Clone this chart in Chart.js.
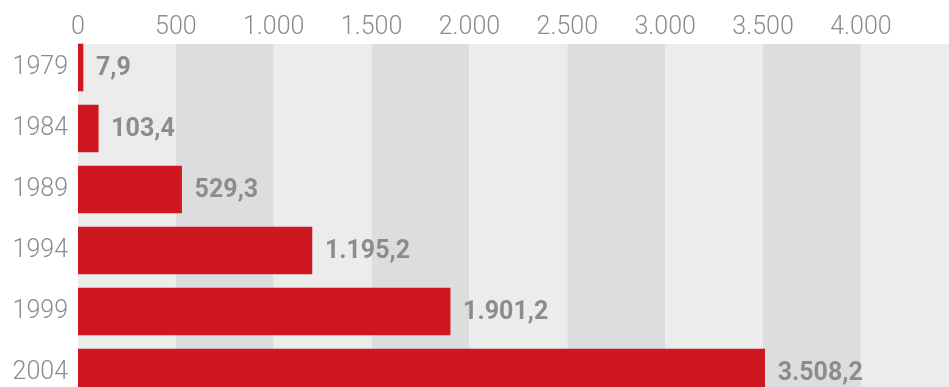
<!DOCTYPE html>
<html lang="de">
<head>
<meta charset="utf-8">
<title>1979–2004</title>
<script src="https://cdn.jsdelivr.net/npm/chart.js@4/dist/chart.umd.min.js"></script>
<style>
  html, body { margin: 0; padding: 0; background: #fff; overflow: hidden; }
  #wrap { width: 949px; height: 403px; }
</style>
</head>
<body>
<div id="wrap"><canvas id="chart" width="949" height="403"></canvas></div>
<script>
const years = ['1979', '1984', '1989', '1994', '1999', '2004'];
const values = [7.9, 103.4, 529.3, 1195.2, 1901.2, 3508.2];
const xTicks = [0, 500, 1000, 1500, 2000, 2500, 3000, 3500, 4000];
const xMax = 4450;
const xStep = 500;

const red = '#cf1720';
const grey = '#8c8c8c';
const bandLight = '#ececec';
const bandDark = '#dcdddf';
const barHeight = 47;

const fmtInt = new Intl.NumberFormat('de-DE');
const fmtDec = new Intl.NumberFormat('de-DE', { minimumFractionDigits: 1, maximumFractionDigits: 1 });

// alternating vertical bands, starting at the top edge of the first bar
const bands = {
    id: 'bands',
    beforeDatasetsDraw(chart) {
        const { ctx, chartArea, scales } = chart;
        const x = scales.x, y = scales.y;
        const top = y.getPixelForValue(0) - barHeight / 2;
        ctx.save();
        for (let v = 0, i = 0; v < xMax; v += xStep, i++) {
            const x0 = x.getPixelForValue(v);
            const x1 = x.getPixelForValue(Math.min(v + xStep, xMax));
            ctx.fillStyle = i % 2 ? bandDark : bandLight;
            ctx.fillRect(x0, top, x1 - x0, chartArea.bottom - top);
        }
        ctx.restore();
    }
};

// value labels to the right of each bar
const valueLabels = {
    id: 'valueLabels',
    afterDatasetsDraw(chart) {
        const { ctx } = chart;
        const meta = chart.getDatasetMeta(0);
        ctx.save();
        ctx.fillStyle = grey;
        ctx.font = 'bold 25px Roboto, "Liberation Sans", sans-serif';
        ctx.textAlign = 'left';
        ctx.textBaseline = 'middle';
        meta.data.forEach((bar, i) => {
            ctx.fillText(fmtDec.format(values[i]), bar.x + 13, bar.y + 1);
        });
        ctx.restore();
    }
};

// no extra room for half-labels at the ends of the axes
const noEdgePadding = (scale) => {
    scale.paddingTop = scale.paddingBottom = 0;
    scale.paddingLeft = scale.paddingRight = 0;
};

new Chart(document.querySelector('#chart').getContext('2d'), {
    type: 'bar',
    data: {
        labels: years,
        datasets: [{
            data: values,
            backgroundColor: red,
            borderWidth: 0,
            barThickness: barHeight,
            minBarLength: 5
        }]
    },
    options: {
        indexAxis: 'y',
        responsive: false,
        animation: false,
        events: [],
        layout: { padding: 0 },
        plugins: {
            legend: { display: false },
            tooltip: { enabled: false }
        },
        scales: {
            x: {
                position: 'top',
                min: 0,
                max: xMax,
                grid: { display: false, drawTicks: false },
                border: { display: false },
                afterBuildTicks: (scale) => {
                    scale.ticks = xTicks.map(v => ({ value: v }));
                },
                afterFit: (scale) => {
                    scale.height = 37;
                    noEdgePadding(scale);
                },
                ticks: {
                    autoSkip: false,
                    maxRotation: 0,
                    minRotation: 0,
                    padding: -6,
                    color: grey,
                    font: { family: 'Roboto', weight: 300, size: 25 },
                    callback: (v) => fmtInt.format(v)
                }
            },
            y: {
                grid: { display: false, drawTicks: false },
                border: { display: false },
                afterFit: (scale) => {
                    scale.width = 78;
                    noEdgePadding(scale);
                },
                ticks: {
                    padding: 10,
                    color: grey,
                    font: { family: 'Roboto', weight: 300, size: 25 }
                }
            }
        }
    },
    plugins: [bands, valueLabels]
});
</script>
</body>
</html>
